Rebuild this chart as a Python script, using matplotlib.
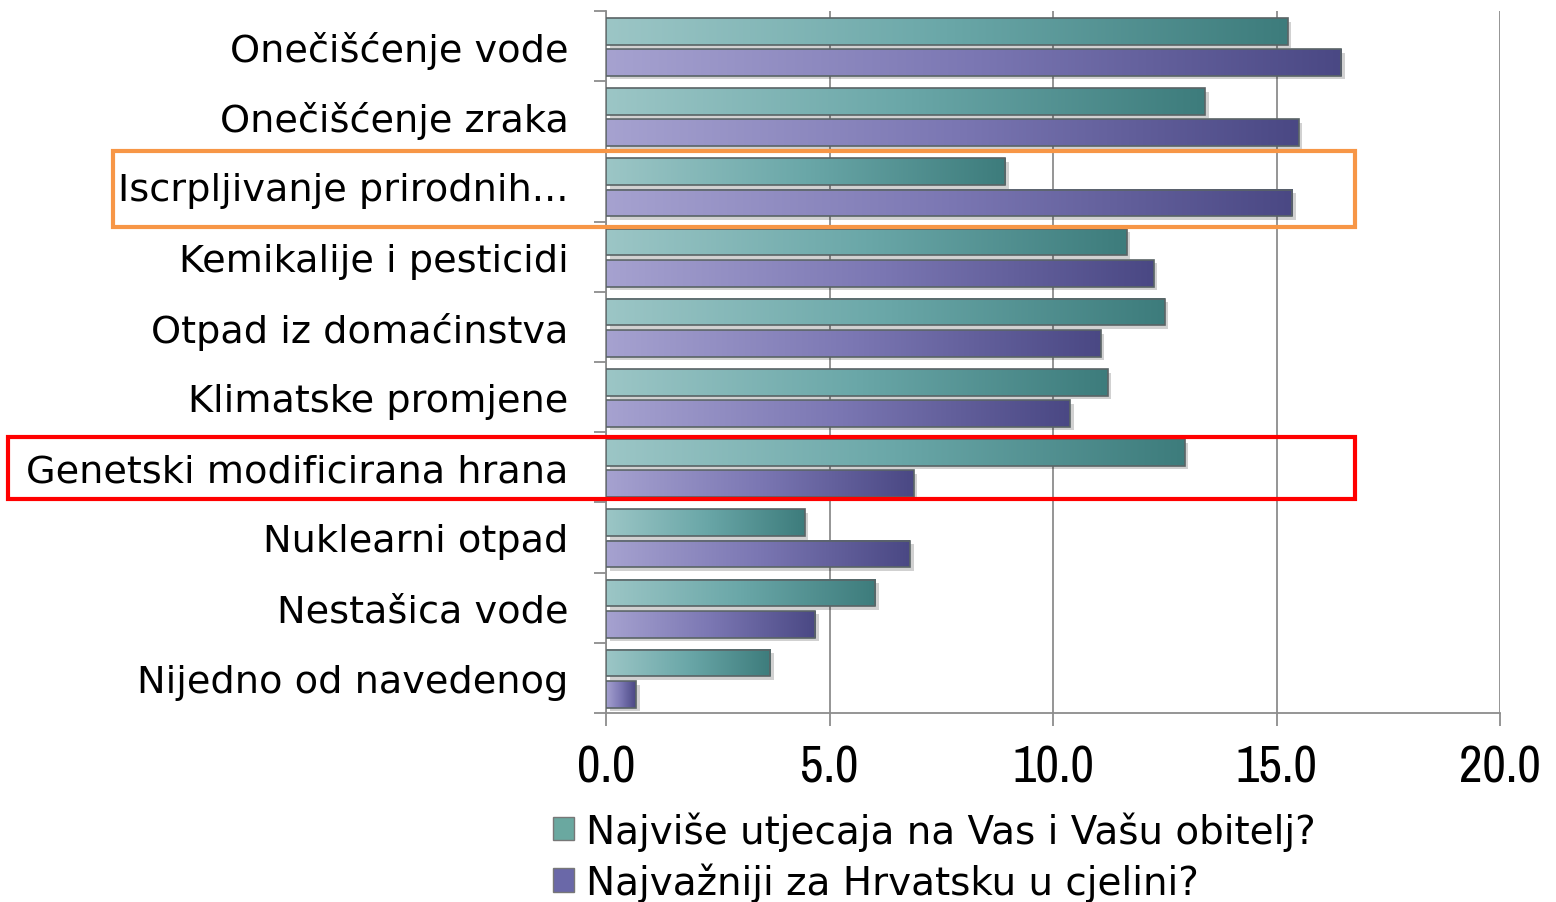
import numpy as np
import matplotlib
matplotlib.use("Agg")
import matplotlib.pyplot as plt
from matplotlib.colors import LinearSegmentedColormap
from matplotlib.patches import Rectangle, Patch

# data (percent)
categories = ['Onečišćenje vode', 'Onečišćenje zraka', 'Iscrpljivanje prirodnih...',
              'Kemikalije i pesticidi', 'Otpad iz domaćinstva', 'Klimatske promjene',
              'Genetski modificirana hrana', 'Nuklearni otpad', 'Nestašica vode',
              'Nijedno od navedenog']
family_vals = [15.25, 13.4, 8.93, 11.65, 12.5, 11.22, 12.95, 4.45, 6.02, 3.67]
croatia_vals = [16.45, 15.5, 15.35, 12.25, 11.07, 10.38, 6.88, 6.8, 4.68, 0.67]
series_names = ['Najviše utjecaja na Vas i Vašu obitelj?', 'Najvažniji za Hrvatsku u cjelini?']
xticks = [0, 5, 10, 15, 20]

narrow = ['Liberation Sans Narrow', 'Archivo Narrow', 'DejaVu Sans']

W, H = 1556, 903
fig = plt.figure(figsize=(W / 100, H / 100), dpi=100)
ax = fig.add_axes([606 / W, 1 - 714 / H, (1500 - 606) / W, (714 - 12) / H])

teal = LinearSegmentedColormap.from_list('teal', ['#9cc6c6', '#6aa7a8', '#3d7c7c'])
purple = LinearSegmentedColormap.from_list('purple', ['#a6a2d0', '#7b77b3', '#4a4884'])
grad = np.linspace(0, 1, 256).reshape(1, -1)

y = np.arange(len(categories))
bh = 0.38
offs = [-0.21, 0.235]


def gbar(yc, val, cmap):
    # soft shadow
    ax.barh(yc + 0.05, val, height=bh, left=0.08, color='#000000', alpha=0.18,
            zorder=2, linewidth=0)
    ax.imshow(grad, cmap=cmap, aspect='auto', zorder=3,
              extent=[0, val, yc + bh / 2, yc - bh / 2], interpolation='bicubic')
    ax.barh(yc, val, height=bh, facecolor='none', edgecolor='#5a6466',
            linewidth=1.2, zorder=4)


for i in range(len(categories)):
    gbar(y[i] + offs[0], family_vals[i], teal)
    gbar(y[i] + offs[1], croatia_vals[i], purple)

ax.set_xlim(0, 20)
ax.set_ylim(len(categories) - 0.5, -0.5)
ax.set_xticks(xticks)
ax.set_xticklabels(['%.1f' % v for v in xticks], family=narrow, fontsize=37)
ax.tick_params(axis='x', length=9, color='#8c8c8c', width=1.3, pad=13)
ax.grid(axis='x', color='#8c8c8c', linewidth=1.3, zorder=1)
ax.set_axisbelow(True)

ax.set_yticks(y)
ax.set_yticklabels(categories, family='DejaVu Sans', fontsize=27.5)
ax.set_yticks(np.arange(len(categories) + 1) - 0.5, minor=True)
ax.tick_params(axis='y', which='major', length=0, pad=27)
ax.tick_params(axis='y', which='minor', length=9, color='#8c8c8c', width=1.3)

for s in ['top', 'right']:
    ax.spines[s].set_visible(False)
for s in ['left', 'bottom']:
    ax.spines[s].set_color('#8c8c8c')
    ax.spines[s].set_linewidth(1.3)

# highlight boxes
fig.patches.append(Rectangle((113 / W, 1 - 228 / H), (1355 - 113) / W, 76 / H,
                             transform=fig.transFigure, fill=False,
                             edgecolor='#f79646', linewidth=3, zorder=10))
fig.patches.append(Rectangle((8 / W, 1 - 500 / H), (1355 - 8) / W, 62 / H,
                             transform=fig.transFigure, fill=False,
                             edgecolor='#ff0000', linewidth=3, zorder=10))

handles = [Patch(facecolor='#6aa8a0', edgecolor='#777777'),
           Patch(facecolor='#6a68a8', edgecolor='#777777')]
fig.legend(handles, series_names, loc='upper left',
           bbox_to_anchor=(553 / W, 1 - 812 / H), frameon=False,
           prop={'family': 'DejaVu Sans', 'size': 28},
           handlelength=0.55, handleheight=0.55, handletextpad=0.3,
           labelspacing=0.3, borderaxespad=0, borderpad=0)

fig.savefig('out.png', dpi=100)
